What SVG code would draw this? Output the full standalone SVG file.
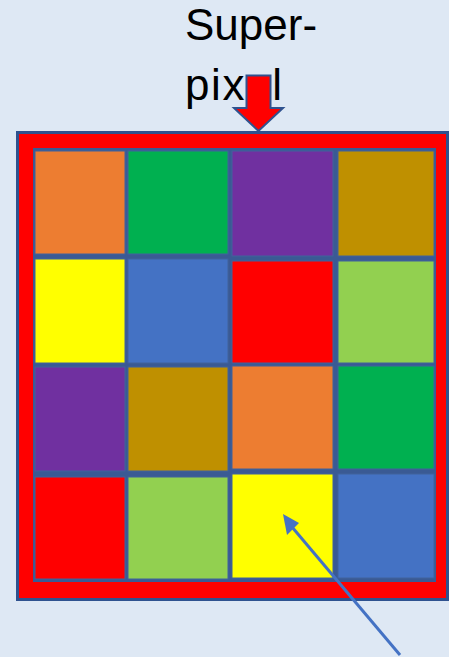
<svg xmlns="http://www.w3.org/2000/svg" width="449" height="657" viewBox="0 0 449 657">
<style>
.cell{stroke:#41629C;stroke-width:1}
.lbl{font-family:"Liberation Sans",Arial,sans-serif;font-size:44px;fill:#000}
</style>
<rect x="0" y="0" width="449" height="657" fill="#DEE8F4"/>
<g id="label">
<text class="lbl" x="185" y="40">Super-</text>
<text class="lbl" x="185" y="100" textLength="97" lengthAdjust="spacing">pixel</text>
</g>
<g id="frame">
<rect x="17.5" y="132.5" width="430" height="467" fill="#FF0000" stroke="#2F528F" stroke-width="3"/>
<rect x="33" y="148" width="403" height="434" fill="#3A5A94"/>
</g>
<g id="grid">
<rect id="c11" class="cell" x="35" y="151" width="90" height="103" fill="#ED7D31"/>
<rect id="c12" class="cell" x="128" y="151" width="100" height="103" fill="#00B050"/>
<rect id="c13" class="cell" x="232" y="151" width="101" height="105" fill="#7030A0"/>
<rect id="c14" class="cell" x="338" y="151" width="96" height="105" fill="#BF9000"/>
<rect id="c21" class="cell" x="35" y="259" width="90" height="104" fill="#FFFF00"/>
<rect id="c22" class="cell" x="128" y="259" width="100" height="104" fill="#4472C4"/>
<rect id="c23" class="cell" x="232" y="261" width="101" height="102" fill="#FF0000"/>
<rect id="c24" class="cell" x="338" y="261" width="96" height="102" fill="#92D050"/>
<rect id="c31" class="cell" x="35" y="367" width="90" height="104" fill="#7030A0"/>
<rect id="c32" class="cell" x="128" y="367" width="100" height="104" fill="#BF9000"/>
<rect id="c33" class="cell" x="232" y="366" width="101" height="103" fill="#ED7D31"/>
<rect id="c34" class="cell" x="338" y="366" width="96" height="103" fill="#00B050"/>
<rect id="c41" class="cell" x="35" y="477" width="90" height="102" fill="#FF0000"/>
<rect id="c42" class="cell" x="128" y="477" width="100" height="102" fill="#92D050"/>
<rect id="c43" class="cell" x="232" y="474" width="101" height="104" fill="#FFFF00"/>
<rect id="c44" class="cell" x="338" y="474" width="96" height="104" fill="#4472C4"/>
</g>
<g id="connectors">
<polygon points="246.5,75.5 270.5,75.5 270.5,108 283,108 258.5,131 234,108 246.5,108" fill="#FF0000" stroke="#2F528F" stroke-width="2" stroke-linejoin="miter"/>
<line x1="400" y1="655" x2="292" y2="527" stroke="#4472C4" stroke-width="3"/>
<polygon points="283,514 299,523 287,535" fill="#4472C4"/>
</g>
</svg>
